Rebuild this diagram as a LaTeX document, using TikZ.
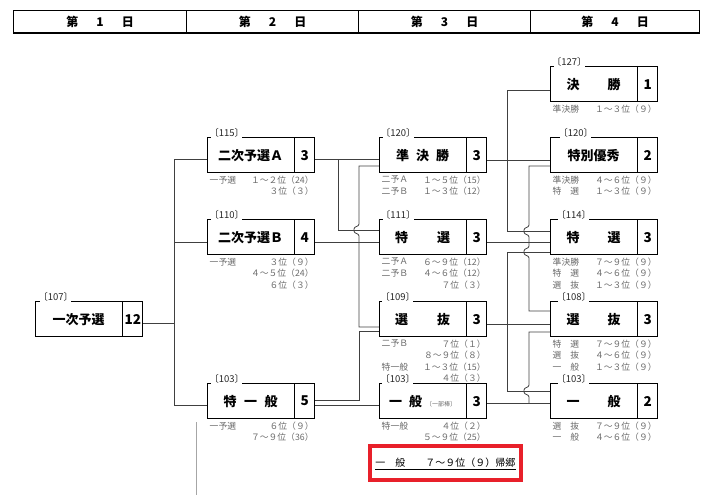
\documentclass[tikz,border=0pt]{standalone}
\usepackage{fontspec}
\newfontfamily\jp{Noto Sans CJK JP}
\usetikzlibrary{calc}
\definecolor{subgray}{HTML}{6A6A6A}
\definecolor{linegray}{HTML}{404040}
\definecolor{alertred}{HTML}{E8202A}
\tikzset{
  conn/.style={draw=linegray, line width=0.75pt},
  boxmain/.style={draw=black, line width=1.3pt, minimum width=107pt, minimum height=35pt, inner sep=0pt, anchor=north west},
  divline/.style={draw=black, line width=1.1pt},
  mainlabel/.style={font=\jp\bfseries\fontsize{13}{15}\selectfont, inner sep=0pt},
  numlabel/.style={font=\jp\bfseries\fontsize{13.5}{15}\selectfont, inner sep=0pt},
  bracketlabel/.style={font=\jp\fontsize{9.5}{11}\selectfont, fill=white, inner xsep=1.2pt, inner ysep=0.8pt, anchor=base west, text=black!85},
  subtxt/.style={font=\jp\fontsize{8.8}{10}\selectfont, text=subgray, inner sep=0pt},
  hdrcell/.style={draw=black, line width=1.2pt, minimum height=22pt, inner sep=0pt, anchor=north west, font=\jp\bfseries\fontsize{12}{14}\selectfont},
  redframe/.style={draw=alertred, line width=3.6pt, minimum width=151pt, minimum height=34pt, inner sep=0pt, anchor=north west},
  redtext/.style={font=\jp\fontsize{10}{12}\selectfont, inner sep=0pt},
  faintline/.style={draw=black!35, line width=0.8pt},
}
% #1 bracket offset, #2 name, #3 x, #4 y, #5 label, #6 number, #7 bracket
\newcommand{\gamebox}[7][4]{%
  \node[boxmain] (#2) at (#3,#4) {};
  \draw[divline] ([xshift=-21pt]#2.north east) -- ([xshift=-21pt]#2.south east);
  \node[mainlabel] (#2-l) at ([xshift=-10.5pt]#2.center) {#5};
  \node[numlabel] (#2-n) at ([xshift=-10.5pt]#2.east) {#6};
  \node[bracketlabel] (#2-b) at ([xshift=#1pt,yshift=0.5pt]#2.north west) {\kern-3pt〔#7〕\kern-3pt};
}
\newcommand{\subL}[3]{\node[subtxt, anchor=west] (#1-sl#2) at ($(#1.south west)+(2.5,6.5+11.5*#2)$) {#3};}
\newcommand{\subR}[3]{\node[subtxt, anchor=east] (#1-sr#2) at ($(#1.south east)+(-1.5,6.5+11.5*#2)$) {#3};}

\begin{document}
\begin{tikzpicture}[x=1pt,y=-1pt]
\useasboundingbox (0,0) rectangle (710,495);

% header
\node[hdrcell, minimum width=173pt] (h1) at (13,10) {第\hspace{1.5em}1\hspace{1.5em}日};
\node[hdrcell, minimum width=172pt] (h2) at (186,10) {第\hspace{1.5em}2\hspace{1.5em}日};
\node[hdrcell, minimum width=172pt] (h3) at (358,10) {第\hspace{1.5em}3\hspace{1.5em}日};
\node[hdrcell, minimum width=169pt] (h4) at (530,10) {第\hspace{1.5em}4\hspace{1.5em}日};
\draw[line width=2pt] (h1.south west) -- (h4.south east);

% boxes
\gamebox[5]{P107}{35}{301}{一次予選}{12}{107}
\gamebox[4]{A115}{207}{137}{二次予選Ａ}{3}{115}
\gamebox[4]{B110}{207}{219}{二次予選Ｂ}{4}{110}
\gamebox[4]{T103}{207}{383}{\hbox to 54pt{特\hfill 一\hfill 般}}{5}{103}
\gamebox[3.5]{S120}{379}{137}{\hbox to 53pt{準\hfill 決\hfill 勝}}{3}{120}
\gamebox[3.5]{K111}{379}{219}{\hbox to 55pt{特\hfill 選}}{3}{111}
\gamebox[3]{N109}{379}{301}{\hbox to 55pt{選\hfill 抜}}{3}{109}
\gamebox[3]{G103}{379}{383}{\hbox{一\hspace{7pt}般\hspace{4pt}{\mdseries\color{subgray}\fontsize{6}{7}\selectfont 〔一部棒〕}}}{3}{103}
\gamebox[3.5]{F127}{550}{66}{\hbox to 54pt{決\hfill 勝}}{1}{127}
\gamebox[10]{Y120}{550}{137}{特別優秀}{2}{120}
\gamebox[8]{K114}{550}{219}{\hbox to 54pt{特\hfill 選}}{3}{114}
\gamebox[8]{N108}{550}{301}{\hbox to 54pt{選\hfill 抜}}{3}{108}
\gamebox[8]{G103b}{550}{383}{\hbox to 54pt{一\hfill 般}}{2}{103}

% sub texts
\subL{A115}{0}{一予選}\subR{A115}{0}{１～２位（24）}
\subR{A115}{1}{３位（３）}
\subL{B110}{0}{一予選}\subR{B110}{0}{３位（９）}
\subR{B110}{1}{４～５位（24）}
\subR{B110}{2}{６位（３）}
\subL{T103}{0}{一予選}\subR{T103}{0}{６位（９）}
\subR{T103}{1}{７～９位（36）}
\subL{S120}{0}{二予Ａ}\subR{S120}{0}{１～５位（15）}
\subL{S120}{1}{二予Ｂ}\subR{S120}{1}{１～３位（12）}
\subL{K111}{0}{二予Ａ}\subR{K111}{0}{６～９位（12）}
\subL{K111}{1}{二予Ｂ}\subR{K111}{1}{４～６位（12）}
\subR{K111}{2}{７位（３）}
\subL{N109}{0}{二予Ｂ}\subR{N109}{0}{７位（１）}
\subR{N109}{1}{８～９位（８）}
\subL{N109}{2}{特一般}\subR{N109}{2}{１～３位（15）}
\subR{N109}{3}{４位（３）}
\subL{G103}{0}{特一般}\subR{G103}{0}{４位（２）}
\subR{G103}{1}{５～９位（25）}
\subL{F127}{0}{準決勝}\subR{F127}{0}{１～３位（９）}
\subL{Y120}{0}{準決勝}\subR{Y120}{0}{４～６位（９）}
\subL{Y120}{1}{特　選}\subR{Y120}{1}{１～３位（９）}
\subL{K114}{0}{準決勝}\subR{K114}{0}{７～９位（９）}
\subL{K114}{1}{特　選}\subR{K114}{1}{４～６位（９）}
\subL{K114}{2}{選　抜}\subR{K114}{2}{１～３位（９）}
\subL{N108}{0}{特　選}\subR{N108}{0}{７～９位（９）}
\subL{N108}{1}{選　抜}\subR{N108}{1}{４～６位（９）}
\subL{N108}{2}{一　般}\subR{N108}{2}{１～３位（９）}
\subL{G103b}{0}{選　抜}\subR{G103b}{0}{７～９位（９）}
\subL{G103b}{1}{一　般}\subR{G103b}{1}{４～６位（９）}

% column 1 -> 2
\coordinate (c1) at (174,323);
\draw[conn] (P107.east |- c1) -- (c1);
\draw[conn] (A115.west |- 0,159) -- (174,159) -- (174,405) -- (T103.west |- 0,405);
\draw[conn] (174,242) -- (B110.west |- 0,242);

% column 2 -> 3
\draw[conn] (A115.east |- 0,159) -- (S120.west |- 0,159);
\draw[conn] (338,159) -- (338,230) -- (K111.west |- 0,230);
\draw[conn] (B110.east |- 0,242) -- (K111.west |- 0,242);
\draw[conn] (S120.west |- 0,166) -- (359,166) -- (359,224) .. controls (359,227) and (354,226) .. (354,229) -- (354,231) .. controls (354,234) and (359,233) .. (359,236) -- (359,327) -- (N109.west |- 0,327);
\draw[conn] (T103.east |- 0,400) -- (359,400) -- (359,331) -- (N109.west |- 0,331);
\draw[conn] (T103.east |- 0,405) -- (G103.west |- 0,405);

% column 3 -> 4
\draw[conn] (S120.east |- 0,160) -- (Y120.west |- 0,160);
\draw[conn] (F127.west |- 0,90) -- (507,90) -- (507,231) -- (K114.west |- 0,231);
\draw[conn] (K111.east |- 0,242) -- (K114.west |- 0,242);
\draw[conn] (Y120.west |- 0,166) -- (529,166) -- (529,225) .. controls (529,228) and (524,227) .. (524,230) -- (524,232) .. controls (524,235) and (529,234) .. (529,237) -- (529,246) .. controls (529,249) and (524,248) .. (524,251) -- (524,253) .. controls (524,256) and (529,255) .. (529,258) -- (529,311) -- (N108.west |- 0,311);
\draw[conn] (N109.east |- 0,324) -- (N108.west |- 0,324);
\draw[conn] (K114.west |- 0,252) -- (507,252) -- (507,391) -- (G103b.west |- 0,391);
\draw[conn] (G103.east |- 0,403) -- (G103b.west |- 0,403);
\draw[conn] (N108.west |- 0,332) -- (529,332) -- (529,385) .. controls (529,388) and (524,387) .. (524,390) -- (524,392) .. controls (524,395) and (529,394) .. (529,397) -- (529,403);

% faint line
\coordinate (g1) at (196,422);
\coordinate (g2) at (196,495);
\draw[faintline] (g1) -- (g2);

% red note
\node[redframe] (redbox) at (368,444) {};
\node[redtext] (redtxt) at (redbox.center) {一　般　　７～９位（９）帰郷};
\draw[line width=0.9pt] ([yshift=-2pt]redtxt.south west) -- ([yshift=-2pt]redtxt.south east);
\end{tikzpicture}
\end{document}
